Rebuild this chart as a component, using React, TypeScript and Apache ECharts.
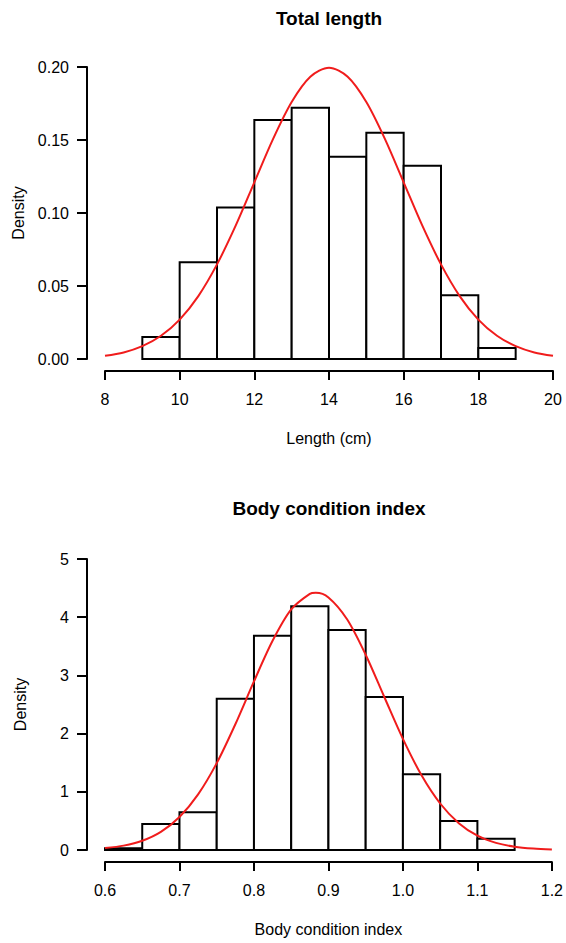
import React, { useEffect, useRef } from "react";
import * as echarts from "echarts";

// Panel 1: Total length
const binEdges1 = [9, 10, 11, 12, 13, 14, 15, 16, 17, 18, 19];
const density1 = [0.0151, 0.0662, 0.1037, 0.1637, 0.1721, 0.1386, 0.155, 0.1324, 0.0436, 0.0075];
const curveX1 = [8, 8.5, 9, 9.5, 10, 10.5, 11, 11.5, 12, 12.5, 13, 13.5, 14, 14.5, 15, 15.5, 16, 16.5, 17, 17.5, 18, 18.5, 19, 19.5, 20];
const curveY1 = [0.0022, 0.0045, 0.0088, 0.0159, 0.027, 0.0431, 0.0648, 0.0913, 0.121, 0.1506, 0.176, 0.1933, 0.1995, 0.1933, 0.176, 0.1506, 0.121, 0.0913, 0.0648, 0.0431, 0.027, 0.0159, 0.0088, 0.0045, 0.0022];

// Panel 2: Body condition index
const binEdges2 = [0.6, 0.65, 0.7, 0.75, 0.8, 0.85, 0.9, 0.95, 1.0, 1.05, 1.1, 1.15];
const density2 = [0.03, 0.447, 0.647, 2.6, 3.68, 4.19, 3.78, 2.63, 1.3, 0.498, 0.195];
const curveX2 = [0.6, 0.625, 0.65, 0.675, 0.7, 0.725, 0.75, 0.775, 0.8, 0.825, 0.85, 0.875, 0.883, 0.9, 0.925, 0.95, 0.975, 1.0, 1.025, 1.05, 1.075, 1.1, 1.125, 1.15, 1.175, 1.2];
const curveY2 = [0.033, 0.075, 0.158, 0.311, 0.567, 0.956, 1.493, 2.161, 2.896, 3.594, 4.133, 4.401, 4.418, 4.34, 3.965, 3.355, 2.629, 1.909, 1.283, 0.799, 0.461, 0.246, 0.122, 0.056, 0.024, 0.009];

const titles = ["Total length", "Body condition index"];
const xNames = ["Length (cm)", "Body condition index"];
const yName = "Density";

const FONT = '"Liberation Sans", Arial, Helvetica, sans-serif';
const RED = "#f01c1c";

function bins(edges: number[], dens: number[]) {
  return dens.map((d, i) => [edges[i], edges[i + 1], d]);
}

const renderBar = (params: any, api: any) => {
  const p0 = api.coord([api.value(0), api.value(2)]);
  const p1 = api.coord([api.value(1), 0]);
  return {
    type: "rect",
    shape: { x: p0[0], y: p0[1], width: p1[0] - p0[0], height: p1[1] - p0[1] },
    style: { fill: "#ffffff", stroke: "#000000", lineWidth: 2 },
  };
};

export default function App() {
  const ref = useRef<HTMLDivElement>(null);
  useEffect(() => {
    document.body.style.margin = "0";
    const chart = echarts.init(ref.current!, null, { renderer: "svg" });
    const axisCommon = {
      axisLine: { show: true, onZero: false, lineStyle: { color: "#000", width: 2 } },
      axisTick: { show: true, length: 9, lineStyle: { color: "#000", width: 2 } },
      splitLine: { show: false },
    };
    const xAxis = (idx: number, min: number, max: number, interval: number, dec: number) => ({
      type: "value",
      gridIndex: idx,
      min,
      max,
      interval,
      offset: 12,
      ...axisCommon,
      axisLabel: {
        color: "#000",
        fontSize: 16,
        fontFamily: FONT,
        margin: 20,
        formatter: (v: number) => v.toFixed(dec),
      },
      name: xNames[idx],
      nameLocation: "middle",
      nameGap: 59,
      nameTextStyle: { color: "#000", fontSize: 16, fontFamily: FONT },
    });
    const yAxis = (idx: number, max: number, interval: number, dec: number) => ({
      type: "value",
      gridIndex: idx,
      min: 0,
      max,
      interval,
      offset: 18,
      ...axisCommon,
      axisTick: { show: true, length: 10, lineStyle: { color: "#000", width: 2 } },
      axisLabel: {
        color: "#000",
        fontSize: 16,
        fontFamily: FONT,
        margin: 18,
        formatter: (v: number) => v.toFixed(dec),
      },
      name: yName,
      nameLocation: "middle",
      nameGap: 59,
      nameTextStyle: { color: "#000", fontSize: 16, fontFamily: FONT },
    });
    chart.setOption({
      animation: false,
      backgroundColor: "#ffffff",
      textStyle: { fontFamily: FONT },
      grid: [
        { left: 105, right: 13, top: 67, bottom: 584 },
        { left: 105, right: 13, top: 559, bottom: 93 },
      ],
      xAxis: [xAxis(0, 8, 20, 2, 0), xAxis(1, 0.6, 1.2, 0.1, 1)],
      yAxis: [yAxis(0, 0.2, 0.05, 2), yAxis(1, 5, 1, 0)],
      graphic: [
        {
          type: "text",
          x: 329,
          y: 18,
          style: { text: titles[0], fontSize: 19, fontWeight: "bold", fontFamily: FONT, fill: "#000", align: "center", verticalAlign: "middle" },
        },
        {
          type: "text",
          x: 329,
          y: 508,
          style: { text: titles[1], fontSize: 19, fontWeight: "bold", fontFamily: FONT, fill: "#000", align: "center", verticalAlign: "middle" },
        },
      ],
      series: [
        {
          type: "custom",
          xAxisIndex: 0,
          yAxisIndex: 0,
          renderItem: renderBar,
          encode: { x: [0, 1], y: 2 },
          data: bins(binEdges1, density1),
          clip: false,
          z: 2,
        },
        {
          type: "custom",
          xAxisIndex: 1,
          yAxisIndex: 1,
          renderItem: renderBar,
          encode: { x: [0, 1], y: 2 },
          data: bins(binEdges2, density2),
          clip: false,
          z: 2,
        },
        {
          type: "line",
          xAxisIndex: 0,
          yAxisIndex: 0,
          data: curveX1.map((x, i) => [x, curveY1[i]]),
          smooth: 0.3,
          showSymbol: false,
          lineStyle: { color: RED, width: 2 },
          z: 3,
        },
        {
          type: "line",
          xAxisIndex: 1,
          yAxisIndex: 1,
          data: curveX2.map((x, i) => [x, curveY2[i]]),
          smooth: 0.3,
          showSymbol: false,
          lineStyle: { color: RED, width: 2 },
          z: 3,
        },
      ],
    });
    return () => chart.dispose();
  }, []);
  return <div ref={ref} style={{ position: "absolute", left: 0, top: 0, width: 566, height: 943 }} />;
}
